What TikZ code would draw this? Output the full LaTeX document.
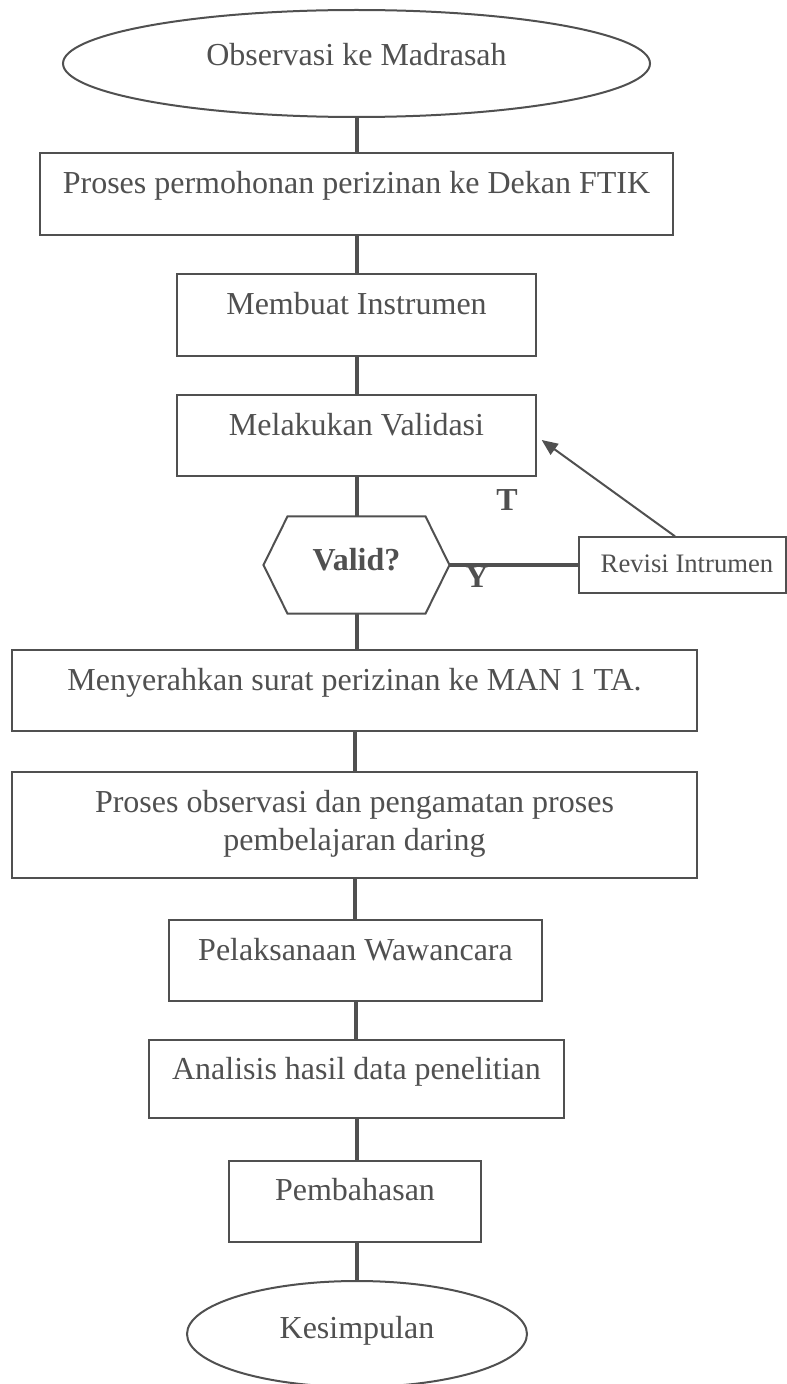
\documentclass[tikz,border=0pt]{standalone}
\usepackage{fontspec}
\setmainfont{Liberation Serif}
\usetikzlibrary{shapes.geometric,arrows.meta}
\newdimen\upx \upx=0.375pt
\definecolor{ink}{RGB}{80,80,80}
\newcommand\boxtxt[4]{\parbox[c][#2\upx][t]{#1\upx}{\centering\rule{0pt}{#3\upx}#4}}
\tikzset{
  procbox/.style={draw=ink, line width=0.5pt, inner sep=0pt, fill=white},
  term/.style={ellipse, draw=ink, line width=0.75pt, inner sep=0pt, text depth=0pt},
  link/.style={draw=ink, line width=1.5pt},
  lbl/.style={font=\bfseries\fontsize{12}{14}\selectfont, inner sep=0pt},
}
\begin{document}
\begin{tikzpicture}[x=0.375pt, y=-0.375pt,
  every node/.style={text=ink, font=\fontsize{12}{14.25}\selectfont}]
\useasboundingbox (0,0) rectangle (787,1384);

\node[term, minimum width=220.125pt, minimum height=40.125pt, text height=1.875pt] (e1) at (356.5,63.5) {Observasi ke Madrasah};
\node[procbox] (b1) at (356.5,194) {\boxtxt{633}{82}{40}{Proses permohonan perizinan ke Dekan FTIK}};
\node[procbox] (b2) at (356.5,315) {\boxtxt{359}{82}{40}{Membuat Instrumen}};
\node[procbox] (b3) at (356.5,435.5) {\boxtxt{359}{81}{40}{Melakukan Validasi}};
\node[inner sep=0pt, minimum width=69.375pt, minimum height=36pt, text height=3.75pt, text depth=0pt, font=\bfseries\fontsize{12}{14}\selectfont] (hex) at (356.5,565) {Valid?};
\node[procbox] (rev) at (682.5,565) {\boxtxt{207}{56}{35}{\fontsize{10}{12}\selectfont\hspace*{9\upx}Revisi Intrumen}};
\node[procbox] (b4) at (354.5,690.5) {\boxtxt{685}{81}{40}{Menyerahkan surat perizinan ke MAN 1 TA.}};
\node[procbox] (b5) at (354.5,825) {\boxtxt{685}{106}{40}{Proses observasi dan pengamatan proses\\pembelajaran daring}};
\node[procbox] (b6) at (355.5,960.5) {\boxtxt{373}{81}{40}{Pelaksanaan Wawancara}};
\node[procbox] (b7) at (356.5,1079) {\boxtxt{415}{78}{39}{Analisis hasil data penelitian}};
\node[procbox] (b8) at (355,1201.5) {\boxtxt{252}{81}{39}{Pembahasan}};
\node[term, minimum width=127.5pt, minimum height=39.75pt, text height=3pt] (e2) at (357,1334) {Kesimpulan};

\draw[ink, line width=0.75pt] (hex.west) -- ([shift={(24,0)}]hex.north west) -- ([shift={(-24,0)}]hex.north east) -- (hex.east) -- ([shift={(-24,0)}]hex.south east) -- ([shift={(24,0)}]hex.south west) -- cycle;

\node[lbl] (tl) at (507,500.5) {T};
\node[lbl] (yl) at (477,577.5) {Y};

\draw[link] (e1.south) -- (e1.south |- b1.north);
\draw[link] (b1.south) -- (b1.south |- b2.north);
\draw[link] (b2.south) -- (b2.south |- b3.north);
\draw[link] (hex.north) -- (hex.north |- b3.south);
\draw[link] (hex.south) -- (hex.south |- b4.north);
\draw[link] (b4.south) -- (b4.south |- b5.north);
\draw[link] (b5.south) -- (b5.south |- b6.north);
\draw[link] (b6.south) -- (b6.south |- b7.north);
\draw[link] (b7.south) -- (b7.south |- b8.north);
\draw[link] (e2.north) -- (e2.north |- b8.south);
\draw[link] (hex.east) -- (rev.west);
\draw[ink, line width=0.75pt, -{Triangle[length=6pt,width=5pt]}] ([shift={(-7.5,0)}]rev.north) -- ([shift={(5,4.5)}]b3.east);
\end{tikzpicture}
\end{document}
